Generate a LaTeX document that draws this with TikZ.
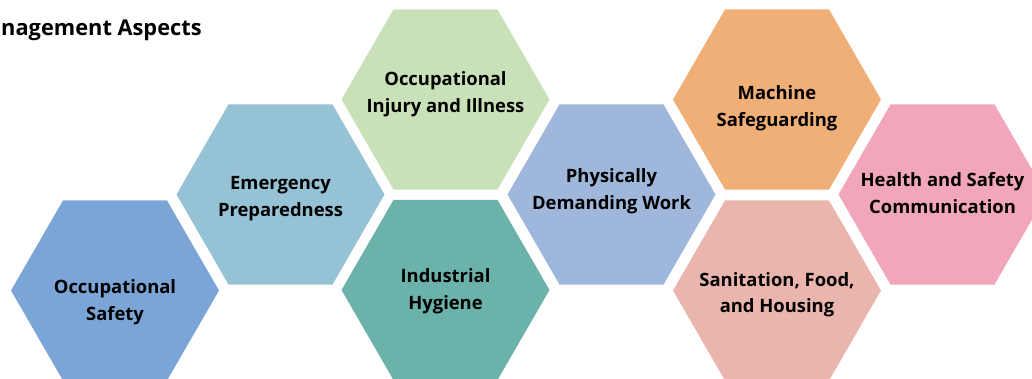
\documentclass[tikz,border=0pt]{standalone}
\usepackage{fontspec}
\setmainfont{Open Sans}
\usetikzlibrary{positioning, shapes.geometric}

\definecolor{safetyblue}{RGB}{123,165,214}
\definecolor{emergblue}{RGB}{150,194,213}
\definecolor{injurygreen}{RGB}{201,225,184}
\definecolor{hygieneteal}{RGB}{106,178,170}
\definecolor{workblue}{RGB}{160,183,220}
\definecolor{machineorange}{RGB}{240,175,118}
\definecolor{sanitrose}{RGB}{234,181,173}
\definecolor{commpink}{RGB}{242,166,185}

\tikzset{
  hexcell/.style={regular polygon, regular polygon sides=6,
    minimum size=208pt, inner sep=0pt},
  hextext/.style={align=center, inner sep=0pt,
    font=\bfseries\fontsize{18.4}{26.5}\selectfont}
}

\begin{document}
\begin{tikzpicture}[x=1pt,y=1pt]
  \useasboundingbox (0,0) rectangle (1032,379);
  \clip (0,0) rectangle (1032,379);
  \node[anchor=base west,inner sep=0pt,font=\bfseries\fontsize{21.8}{26}\selectfont]
       (title) at (1,343) {nagement Aspects};
  % first column
  \node[hexcell,fill=safetyblue] (safety) at (115,88.5) {};
  \node[hextext] (safetytext) at (115,77) {Occupational\\Safety};
  % second column
  \node[hexcell,fill=emergblue] (emerg) at (280.5,184.5) {};
  \node[hextext] (emergtext) at (280.5,180.6) {Emergency\\Preparedness};
  % third column
  \node[hexcell,fill=injurygreen] (injury) at (445.5,279.5) {};
  \node[hextext] (injurytext) at (445.5,285)
       {Occupational\\Injury and Illness};
  \node[hexcell,fill=hygieneteal] (hygiene) at (445.5,89) {};
  \node[hextext] (hygienetext) at (445.5,87.8) {Industrial\\Hygiene};
  % fourth column
  \node[hexcell,fill=workblue] (work) at (611.5,184.5) {};
  \node[hextext] (worktext) at (611.5,187.6) {Physically\\Demanding Work};
  % fifth column
  \node[hexcell,fill=machineorange] (machine) at (777,279.5) {};
  \node[hextext] (machinetext) at (777,271) {Machine\\Safeguarding};
  \node[hexcell,fill=sanitrose] (sanit) at (777,88.5) {};
  \node[hextext] (sanittext) at (777,84.3) {Sanitation, Food,\\and Housing};
  % sixth column
  \node[hexcell,fill=commpink] (comm) at (942.5,184.5) {};
  \node[hextext] (commtext) at (942.5,185.7)
       {Health and Safety\\Communication};
\end{tikzpicture}
\end{document}
